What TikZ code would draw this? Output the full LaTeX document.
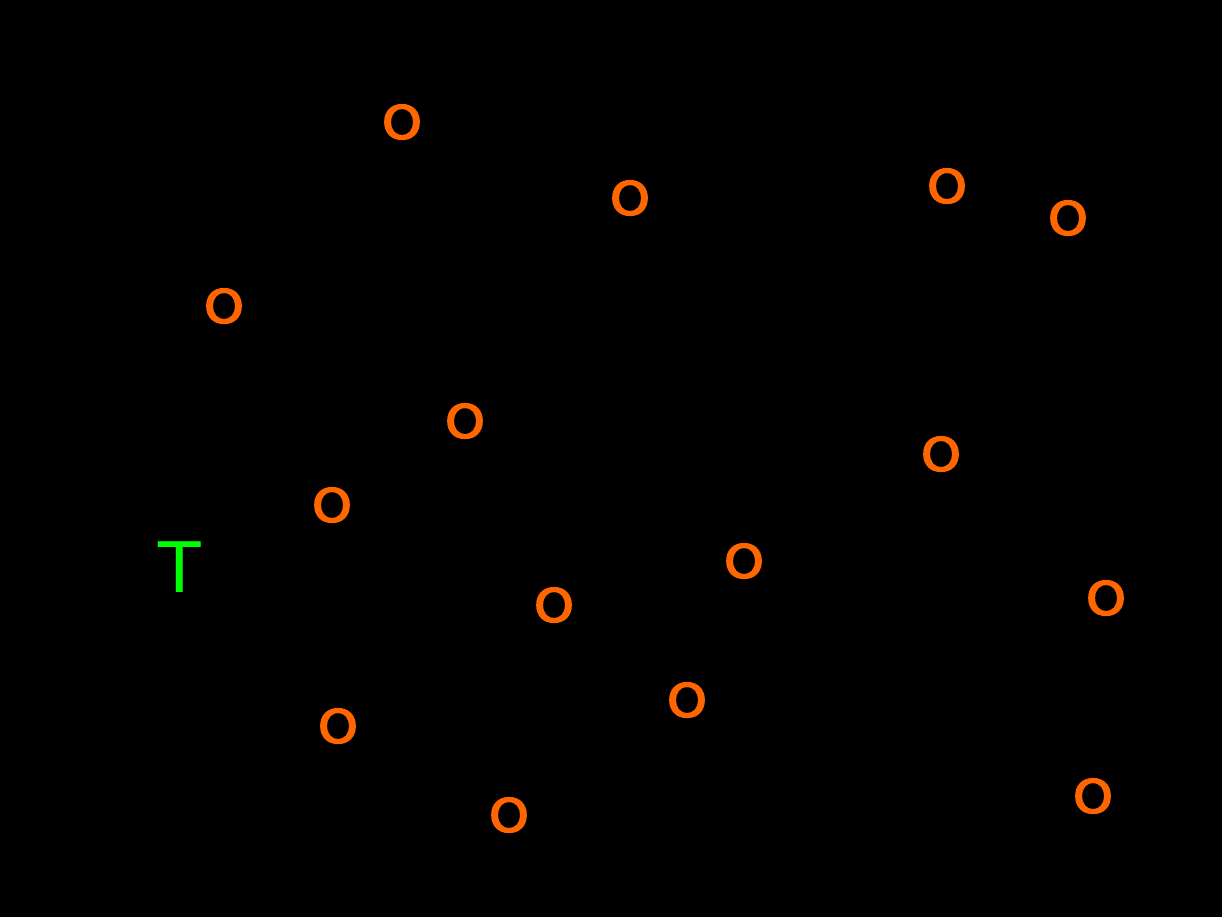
\documentclass[tikz,border=0pt]{standalone}
\usepackage{fontspec}
\setmainfont{DejaVu Sans}
\newfontfamily\obfont[FakeBold=3.5]{DejaVu Sans}
\definecolor{obor}{RGB}{255,102,0}
\definecolor{tgr}{RGB}{0,255,0}
\tikzset{
  obs/.style={inner sep=0pt, text=obor, font=\obfont\fontsize{13}{14}\selectfont},
  tgt/.style={inner sep=0pt, text=tgr, font=\fontsize{19.8}{22}\selectfont}
}
\newcommand{\obO}{\scalebox{1.1}[1]{O}}
\begin{document}
\begin{tikzpicture}[x=0.01cm,y=-0.01cm]
\fill[black] (0,0) rectangle (1222,917);
\useasboundingbox (0,0) rectangle (1222,917);
\node[obs] (o1) at (402,122) {\obO};
\node[obs] (o2) at (630,198) {\obO};
\node[obs] (o3) at (947,186) {\obO};
\node[obs] (o4) at (1068,218) {\obO};
\node[obs] (o5) at (224,306) {\obO};
\node[obs] (o6) at (465,421) {\obO};
\node[obs] (o7) at (941,454) {\obO};
\node[obs] (o8) at (332,505) {\obO};
\node[tgt] (t) at (180,567) {T};
\node[obs] (o9) at (744,561) {\obO};
\node[obs] (o10) at (554,605) {\obO};
\node[obs] (o11) at (1106,598) {\obO};
\node[obs] (o12) at (687,700) {\obO};
\node[obs] (o13) at (338,726) {\obO};
\node[obs] (o14) at (509,815) {\obO};
\node[obs] (o15) at (1093,796) {\obO};
\end{tikzpicture}
\end{document}
